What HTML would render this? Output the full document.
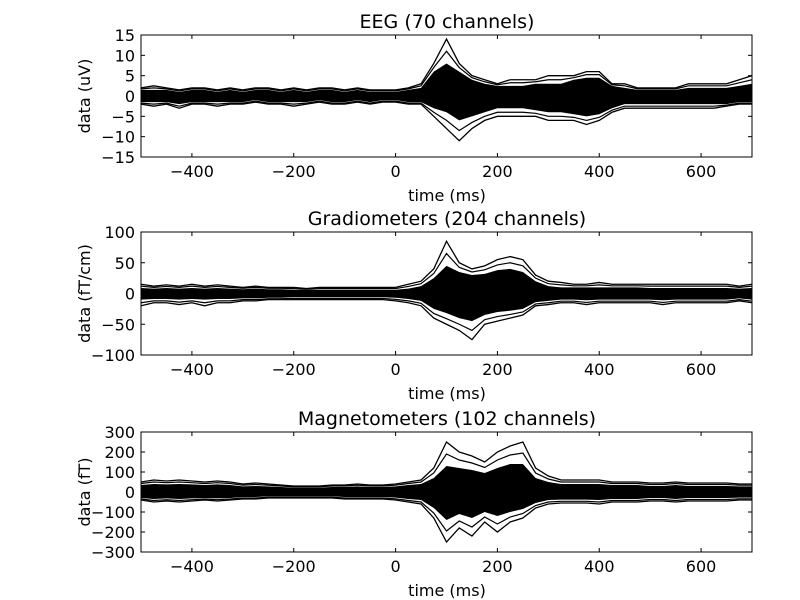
<!DOCTYPE html>
<html><head><meta charset="utf-8"><style>
body{margin:0;background:#fff}
svg{display:block;font-family:"DejaVu Sans","Liberation Sans",sans-serif}
</style></head><body>
<svg id="fig" width="800" height="600"></svg>
<script>
const times=[-500,-475,-450,-425,-400,-375,-350,-325,-300,-275,-250,-225,-200,-175,-150,-125,-100,-75,-50,-25,0,25,50,75,100,125,150,175,200,225,250,275,300,325,350,375,400,425,450,475,500,525,550,575,600,625,650,675,700];
const xTicks=[-400,-200,0,200,400,600];
const eegUpper=[2,2.5,2,1.5,2,2,1.5,2,1.5,2,2,1.5,2,1.5,2,2,1.5,2,1.5,1.5,1.5,2,3,8,14,8,5,4,3,4,4,4,5,5,5,6,6,3,3,2,2,2,2,3,3,3,3,4,5];
const eegLower=[-2,-2.5,-2,-3,-2,-2,-2.5,-2,-2,-1.5,-2,-2,-2.5,-2,-1.5,-2,-2,-1.5,-2,-1.5,-1.5,-2,-2,-5,-8,-11,-8,-6,-5,-5,-5,-5,-6,-6,-6,-7,-6,-4,-3,-3,-3,-3,-3,-3,-3,-3,-2.5,-2,-2];
const eegCoreU=[1.5,1.5,1.5,1,1.5,1.5,1,1.5,1,1.5,1.5,1,1.5,1,1.5,1.5,1,1.5,1,1,1,1.5,2,6,8,6,4,3,2.5,2.5,2.5,3,3,3,4,4.5,4.5,2.5,2,1.5,1.5,1.5,1.5,2,2,2,2,2.5,3];
const eegCoreL=[-1.5,-1.5,-1.5,-2,-1.5,-1.5,-1.5,-1.5,-1.5,-1,-1.5,-1.5,-1.5,-1.5,-1,-1.5,-1.5,-1,-1.5,-1,-1,-1.5,-1.5,-3,-4,-6,-5,-4,-3,-3,-3,-3.5,-4,-4,-4.5,-5,-4.5,-3,-2,-2,-2,-2,-2,-2,-2,-2,-2,-1.5,-1.5];
const gradUpper=[15,12,14,12,15,12,14,12,10,12,10,10,10,8,10,10,10,10,10,10,10,15,20,40,85,50,40,45,55,60,55,30,20,18,15,15,18,15,15,15,15,15,15,15,15,15,15,12,15];
const gradLower=[-20,-15,-15,-18,-15,-20,-15,-15,-12,-12,-10,-10,-10,-10,-10,-10,-10,-10,-10,-10,-12,-15,-20,-40,-50,-60,-75,-50,-45,-40,-35,-20,-18,-15,-15,-18,-15,-15,-15,-15,-15,-18,-15,-15,-15,-15,-15,-12,-15];
const gradCoreU=[9,8,9,8,9,8,9,8,7,8,7,7,6,6,6,6,6,6,6,6,6,8,12,25,45,35,30,32,38,40,35,20,12,10,10,10,10,10,10,10,9,9,9,9,9,9,9,8,9];
const gradCoreL=[-10,-9,-9,-10,-9,-10,-9,-9,-8,-8,-7,-7,-6,-6,-6,-6,-6,-6,-6,-6,-7,-9,-12,-25,-32,-40,-45,-35,-30,-28,-25,-14,-12,-10,-10,-11,-10,-10,-10,-10,-10,-11,-10,-10,-10,-10,-10,-8,-10];
const magUpper=[50,60,55,60,55,50,55,50,40,45,40,35,30,30,30,35,35,40,35,35,40,50,60,120,250,200,180,150,200,230,250,120,80,60,60,60,60,50,50,50,45,45,50,45,45,45,45,40,40];
const magLower=[-40,-50,-45,-50,-45,-40,-45,-40,-35,-35,-30,-30,-30,-30,-30,-30,-35,-35,-35,-35,-40,-50,-60,-130,-250,-180,-220,-150,-200,-150,-130,-80,-60,-55,-55,-55,-60,-50,-50,-50,-45,-45,-50,-45,-45,-45,-45,-40,-40];
const magCoreU=[35,40,38,40,38,35,38,35,28,30,28,25,22,22,22,25,25,28,25,25,28,35,40,70,130,120,110,95,120,140,140,70,50,40,40,40,40,35,35,35,30,30,35,30,30,30,30,28,28];
const magCoreL=[-30,-35,-32,-35,-32,-30,-32,-30,-25,-25,-22,-22,-22,-22,-22,-22,-25,-25,-25,-25,-28,-35,-40,-80,-140,-110,-130,-100,-120,-100,-85,-55,-40,-38,-38,-38,-40,-35,-35,-35,-30,-30,-35,-30,-30,-30,-30,-28,-28];

const panels=[
 {name:'eeg',title:'EEG (70 channels)',ylabel:'data (uV)',top:35,bot:157,ymax:15,yTicks:[15,10,5,0,-5,-10,-15],u:eegUpper,l:eegLower,cu:eegCoreU,cl:eegCoreL},
 {name:'grad',title:'Gradiometers (204 channels)',ylabel:'data (fT/cm)',top:232,bot:355,ymax:100,yTicks:[100,50,0,-50,-100],u:gradUpper,l:gradLower,cu:gradCoreU,cl:gradCoreL},
 {name:'mag',title:'Magnetometers (102 channels)',ylabel:'data (fT)',top:432,bot:552,ymax:300,yTicks:[300,200,100,0,-100,-200,-300],u:magUpper,l:magLower,cu:magCoreU,cl:magCoreL}
];
const NS='http://www.w3.org/2000/svg';
const svg=document.getElementById('fig');
const L=141,R=752;
const xs=t=>L+(t+500)/1200*(R-L);
function mk(tag,attrs,parent){const e=document.createElementNS(NS,tag);for(const k in attrs)e.setAttribute(k,attrs[k]);(parent||svg).appendChild(e);return e;}
panels.forEach(p=>{
  const ys=v=>p.top+(p.ymax-v)/(2*p.ymax)*(p.bot-p.top);
  const g=mk('g',{});
  
  
  const clipId='c'+p.name;
  const cp=mk('clipPath',{id:clipId},g);mk('rect',{x:L,y:p.top,width:R-L,height:p.bot-p.top},cp);
  const dg=mk('g',{'clip-path':'url(#'+clipId+')'},g);
  const core=times.map((t,i)=>xs(t)+','+ys(p.cu[i])).concat(times.map((t,i)=>xs(t)+','+ys(p.cl[i])).reverse()).join(' ');
  const band=mk('polygon',{points:core,fill:'#000'},dg);
  
  
  [[p.u,'upper'],[p.l,'lower']].forEach(([arr,nm])=>{
    const ln=mk('polyline',{points:times.map((t,i)=>xs(t)+','+ys(arr[i])).join(' '),fill:'none',stroke:'#000','stroke-width':1.3},dg);
    
    
    const ln2=mk('polyline',{points:times.map((t,i)=>xs(t)+','+ys((arr[i]+(nm=='upper'?p.cu[i]:p.cl[i]))/2)).join(' '),fill:'none',stroke:'#000','stroke-width':1.2},dg);
    
    
  });
  const fr=mk('rect',{x:L,y:p.top,width:R-L,height:p.bot-p.top,fill:'none',stroke:'#000','stroke-width':1},g);
  
  
  xTicks.forEach(t=>{
    const x=xs(t);
    mk('line',{x1:x,x2:x,y1:p.bot,y2:p.bot-4,stroke:'#000'},g);
    mk('line',{x1:x,x2:x,y1:p.top,y2:p.top+4,stroke:'#000'},g);
    const tx=mk('text',{x:x,y:p.bot+20,'text-anchor':'middle','font-size':16},g);tx.textContent=t===0?'0':(t<0?'\u2212'+(-t):t);
    
    
  });
  p.yTicks.forEach(v=>{
    const y=ys(v);
    mk('line',{x1:L,x2:L+4,y1:y,y2:y,stroke:'#000'},g);
    mk('line',{x1:R,x2:R-4,y1:y,y2:y,stroke:'#000'},g);
    const tx=mk('text',{x:L-6,y:y+6,'text-anchor':'end','font-size':16},g);tx.textContent=v<0?'\u2212'+(-v):v;
    
    
  });
  const ti=mk('text',{x:447,y:p.top-7,'text-anchor':'middle','font-size':19},g);ti.textContent=p.title;
  
  
  const xl=mk('text',{x:447,y:p.bot+44,'text-anchor':'middle','font-size':16},g);xl.textContent='time (ms)';
  
  
  const cy=(p.top+p.bot)/2;
  const yl=mk('text',{x:90,y:cy,'text-anchor':'middle','font-size':16,transform:'rotate(-90 90 '+cy+')'},g);yl.textContent=p.ylabel;
  
  
});
</script>
</body></html>
